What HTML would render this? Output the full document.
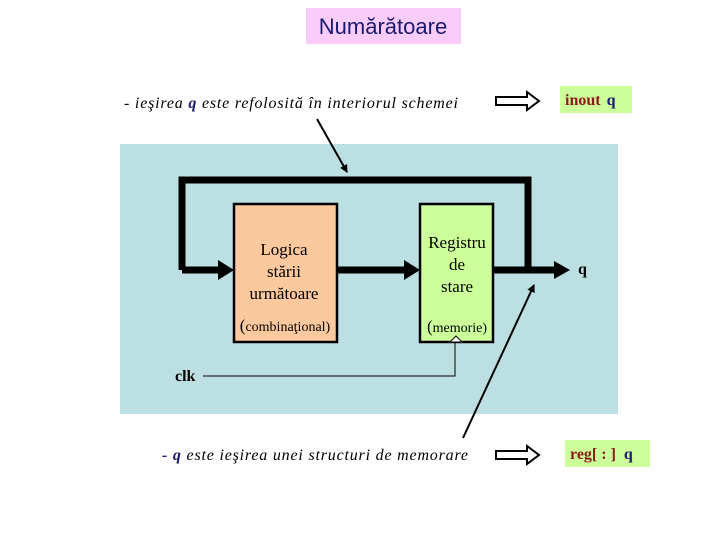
<!DOCTYPE html>
<html><head><meta charset="utf-8"><style>
html,body{margin:0;padding:0;background:#fff;}
body{width:720px;height:540px;position:relative;overflow:hidden;}
</style></head><body>
<svg width="720" height="540" viewBox="0 0 720 540" xmlns="http://www.w3.org/2000/svg" style="position:absolute;left:0;top:0">
<defs>
<marker id="ah" markerWidth="8" markerHeight="8" refX="7" refY="4" orient="auto" markerUnits="userSpaceOnUse"><path d="M0,0 L8,4 L0,8 z" fill="#000"/></marker>
</defs>
<rect x="306" y="8" width="155" height="36" fill="#f9ccf9"/>
<text x="383" y="34" text-anchor="middle" font-family="Liberation Sans, sans-serif" font-size="22" fill="#1a1a6e">Numărătoare</text>
<text x="124" y="108" font-family="Liberation Serif, serif" font-style="italic" font-size="16" fill="#000" textLength="334" lengthAdjust="spacing">- ieşirea <tspan font-weight="bold" fill="#1a1a6e">q</tspan> este refolosită în interiorul schemei</text>
<rect x="120" y="144" width="498" height="270" fill="#bcdfe2"/>
<polyline points="182,270 182,180 528,180 528,270" fill="none" stroke="#000" stroke-width="7"/>
<line x1="182" y1="270" x2="222" y2="270" stroke="#000" stroke-width="7"/>
<polygon points="218,260 234,270 218,280" fill="#000"/>
<line x1="337" y1="270" x2="408" y2="270" stroke="#000" stroke-width="7"/>
<polygon points="404,260 420,270 404,280" fill="#000"/>
<line x1="493" y1="270" x2="558" y2="270" stroke="#000" stroke-width="7"/>
<polygon points="554,261 570,270 554,279" fill="#000"/>
<text x="578" y="274" font-family="Liberation Serif, serif" font-weight="bold" font-size="16">q</text>
<rect x="234" y="204" width="103" height="138" fill="#fcc89e" stroke="#000" stroke-width="2.5"/>
<text font-family="Liberation Serif, serif" font-size="17" text-anchor="middle"><tspan x="284" y="255">Logica</tspan><tspan x="284" y="277">stării</tspan><tspan x="284" y="299">următoare</tspan></text>
<text x="285" y="331" text-anchor="middle" font-family="Liberation Serif, serif" font-size="14"><tspan font-size="17">(</tspan>combinaţional)</text>
<rect x="420" y="204" width="73" height="138" fill="#ccff99" stroke="#000" stroke-width="2.5"/>
<text font-family="Liberation Serif, serif" font-size="17" text-anchor="middle"><tspan x="457" y="248">Registru</tspan><tspan x="457" y="270">de</tspan><tspan x="457" y="292">stare</tspan></text>
<text x="457" y="332" text-anchor="middle" font-family="Liberation Serif, serif" font-size="14"><tspan font-size="17">(</tspan>memorie)</text>
<polygon points="450,342 456,336 462,342" fill="#fff" stroke="#000" stroke-width="1"/>
<polyline points="203,376 455,376 455,342" fill="none" stroke="#000" stroke-width="1"/>
<text x="175" y="381" font-family="Liberation Serif, serif" font-weight="bold" font-size="16">clk</text>
<line x1="317" y1="119" x2="347" y2="172" stroke="#000" stroke-width="2" marker-end="url(#ah)"/>
<line x1="463" y1="438" x2="534" y2="285" stroke="#000" stroke-width="2" marker-end="url(#ah)"/>
<polygon points="496,97 527,97 527,92 539,101 527,110 527,105 496,105" fill="#fff" stroke="#000" stroke-width="2"/>
<polygon points="496,451 527,451 527,446 539,455 527,464 527,459 496,459" fill="#fff" stroke="#000" stroke-width="2"/>
<rect x="560" y="86" width="72" height="27" fill="#ccff99"/>
<text x="565" y="105" font-family="Liberation Serif, serif" font-weight="bold" font-size="16"><tspan fill="#8b1a1a">inout</tspan><tspan fill="#1a1a6e" dx="6">q</tspan></text>
<rect x="565" y="440" width="85" height="27" fill="#ccff99"/>
<text x="570" y="459" font-family="Liberation Serif, serif" font-weight="bold" font-size="16"><tspan fill="#8b1a1a">reg[ : ]</tspan><tspan fill="#1a1a6e" dx="8">q</tspan></text>
<text x="162" y="460" font-family="Liberation Serif, serif" font-style="italic" font-size="16" fill="#000" textLength="306" lengthAdjust="spacing"><tspan font-weight="bold" fill="#1a1a6e">- q</tspan> este ieşirea unei structuri de memorare</text>
</svg>
</body></html>
